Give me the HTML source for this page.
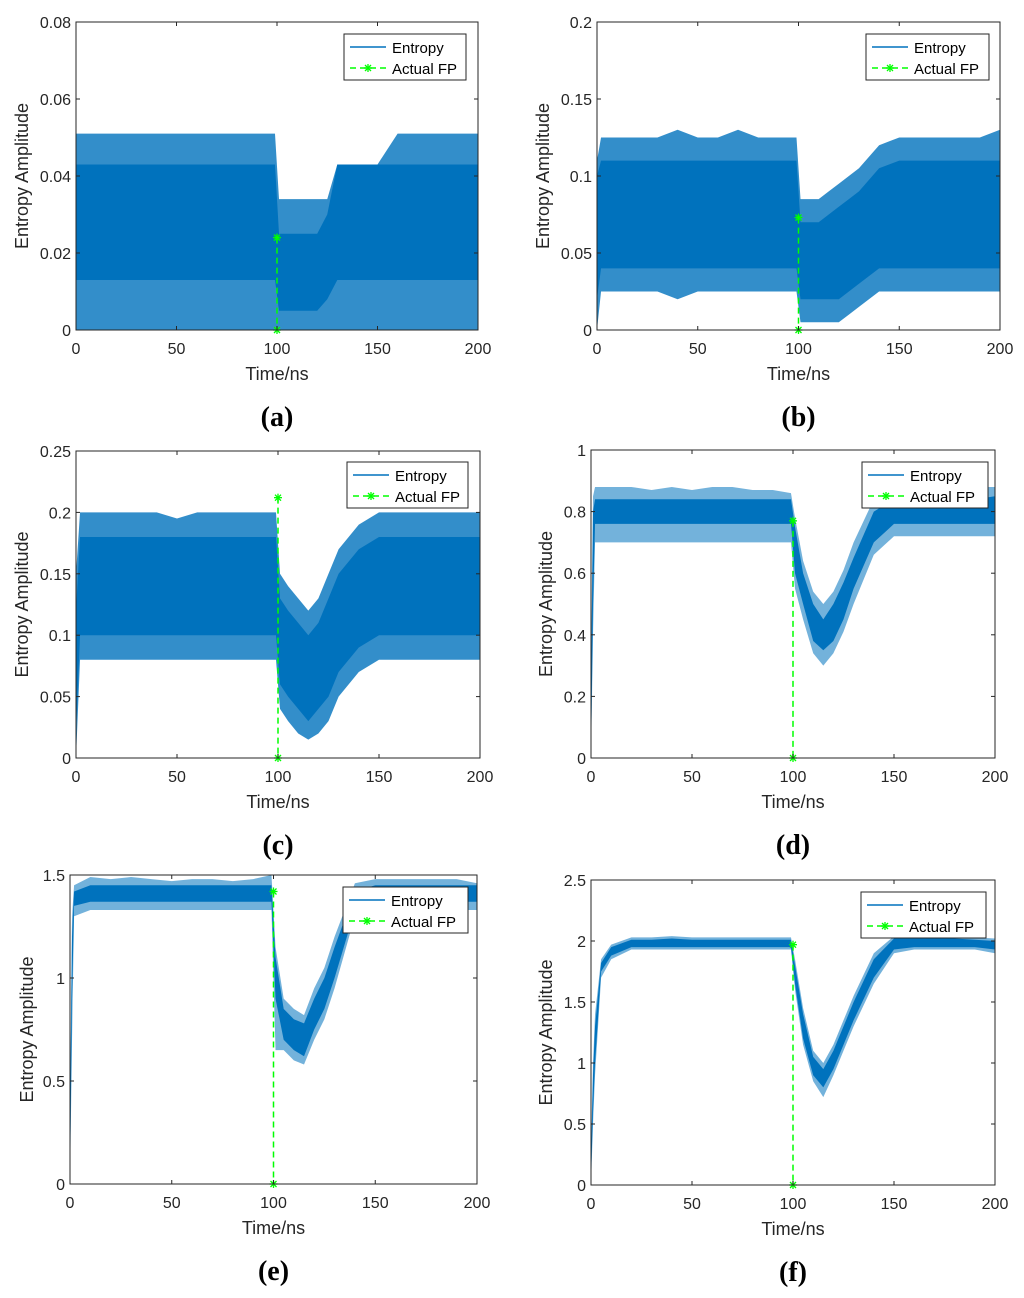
<!DOCTYPE html>
<html><head><meta charset="utf-8"><style>
html,body{margin:0;padding:0;background:#fff}
svg{display:block;font-family:"Liberation Sans",sans-serif}
</style></head><body>
<svg id="fig" width="1024" height="1298" viewBox="0 0 1024 1298"></svg>
<script>
// Panel a
const timesA=[0,2,10,20,30,40,50,60,70,80,90,99,101,105,110,115,120,125,130,140,150,160,170,180,190,200];
const coreLoA=[0.013,0.013,0.013,0.013,0.013,0.013,0.013,0.013,0.013,0.013,0.013,0.013,0.005,0.005,0.005,0.005,0.005,0.008,0.013,0.013,0.013,0.013,0.013,0.013,0.013,0.013];
const coreHiA=[0.043,0.043,0.043,0.043,0.043,0.043,0.043,0.043,0.043,0.043,0.043,0.043,0.025,0.025,0.025,0.025,0.025,0.03,0.043,0.043,0.043,0.043,0.043,0.043,0.043,0.043];
const outLoA=[0,0,0,0,0,0,0,0,0,0,0,0,0,0,0,0,0,0,0,0,0,0,0,0,0,0];
const outHiA=[0.051,0.051,0.051,0.051,0.051,0.051,0.051,0.051,0.051,0.051,0.051,0.051,0.034,0.034,0.034,0.034,0.034,0.034,0.043,0.043,0.043,0.051,0.051,0.051,0.051,0.051];
// Panel b
const timesB=[0,2,10,20,30,40,50,60,70,80,90,99,101,105,110,115,120,125,130,140,150,160,170,180,190,200];
const coreLoB=[0.02,0.04,0.04,0.04,0.04,0.04,0.04,0.04,0.04,0.04,0.04,0.04,0.02,0.02,0.02,0.02,0.02,0.025,0.03,0.04,0.04,0.04,0.04,0.04,0.04,0.04];
const coreHiB=[0.1,0.11,0.11,0.11,0.11,0.11,0.11,0.11,0.11,0.11,0.11,0.11,0.07,0.07,0.07,0.075,0.08,0.085,0.09,0.105,0.11,0.11,0.11,0.11,0.11,0.11];
const outLoB=[0,0.025,0.025,0.025,0.025,0.02,0.025,0.025,0.025,0.025,0.025,0.025,0.005,0.005,0.005,0.005,0.005,0.01,0.015,0.025,0.025,0.025,0.025,0.025,0.025,0.025];
const outHiB=[0.11,0.125,0.125,0.125,0.125,0.13,0.125,0.125,0.13,0.125,0.125,0.125,0.085,0.085,0.085,0.09,0.095,0.1,0.105,0.12,0.125,0.125,0.125,0.125,0.125,0.13];
// Panel c
const timesC=[0,2,10,20,30,40,50,60,70,80,90,99,101,105,110,115,120,125,130,140,150,160,170,180,190,200];
const coreLoC=[0.02,0.1,0.1,0.1,0.1,0.1,0.1,0.1,0.1,0.1,0.1,0.1,0.06,0.05,0.04,0.03,0.04,0.05,0.07,0.09,0.1,0.1,0.1,0.1,0.1,0.1];
const coreHiC=[0.12,0.18,0.18,0.18,0.18,0.18,0.18,0.18,0.18,0.18,0.18,0.18,0.13,0.12,0.11,0.1,0.11,0.13,0.15,0.17,0.18,0.18,0.18,0.18,0.18,0.18];
const outLoC=[0,0.08,0.08,0.08,0.08,0.08,0.08,0.08,0.08,0.08,0.08,0.08,0.04,0.03,0.02,0.015,0.02,0.03,0.05,0.07,0.08,0.08,0.08,0.08,0.08,0.08];
const outHiC=[0.15,0.2,0.2,0.2,0.2,0.2,0.195,0.2,0.2,0.2,0.2,0.2,0.15,0.14,0.13,0.12,0.13,0.15,0.17,0.19,0.2,0.2,0.2,0.2,0.2,0.2];
// Panel d
const timesD=[0,1,2,10,20,30,40,50,60,70,80,90,99,101,105,110,115,120,125,130,140,150,160,170,180,190,200];
const coreLoD=[0,0.5,0.76,0.76,0.76,0.76,0.76,0.76,0.76,0.76,0.76,0.76,0.76,0.6,0.5,0.38,0.35,0.38,0.45,0.55,0.7,0.76,0.76,0.76,0.76,0.76,0.76];
const coreHiD=[0.2,0.8,0.84,0.84,0.84,0.84,0.84,0.84,0.84,0.84,0.84,0.84,0.84,0.75,0.6,0.5,0.45,0.5,0.57,0.65,0.8,0.84,0.84,0.84,0.84,0.84,0.85];
const outLoD=[0,0.4,0.7,0.7,0.7,0.7,0.7,0.7,0.7,0.7,0.7,0.7,0.7,0.55,0.45,0.34,0.3,0.34,0.41,0.5,0.66,0.72,0.72,0.72,0.72,0.72,0.72];
const outHiD=[0.3,0.85,0.88,0.88,0.88,0.87,0.88,0.87,0.88,0.88,0.87,0.87,0.86,0.78,0.64,0.54,0.5,0.54,0.61,0.7,0.84,0.88,0.88,0.88,0.88,0.88,0.88];
// Panel e
const timesE=[0,1,2,10,20,30,40,50,60,70,80,90,99,101,105,110,115,120,125,130,140,150,160,170,180,190,200];
const coreLoE=[0.02,0.9,1.35,1.37,1.37,1.37,1.37,1.37,1.37,1.37,1.37,1.37,1.37,0.9,0.7,0.65,0.62,0.75,0.85,1.0,1.33,1.37,1.37,1.37,1.37,1.37,1.37];
const coreHiE=[0.3,1.2,1.42,1.45,1.45,1.45,1.45,1.45,1.45,1.45,1.45,1.45,1.45,1.1,0.85,0.8,0.78,0.9,1.0,1.15,1.42,1.45,1.45,1.45,1.45,1.45,1.45];
const outLoE=[0,0.7,1.3,1.33,1.33,1.33,1.33,1.33,1.33,1.33,1.33,1.33,1.33,0.65,0.65,0.6,0.58,0.7,0.8,0.95,1.3,1.33,1.33,1.33,1.33,1.33,1.33];
const outHiE=[0.4,1.3,1.45,1.49,1.48,1.49,1.48,1.47,1.48,1.48,1.47,1.48,1.5,1.15,0.9,0.85,0.82,0.95,1.05,1.2,1.46,1.48,1.48,1.48,1.48,1.48,1.46];
// Panel f
const timesF=[0,1,2,5,10,20,30,40,50,60,70,80,90,99,101,105,110,115,120,125,130,140,150,160,170,180,190,200];
const coreLoF=[0.05,0.6,1.0,1.75,1.88,1.95,1.95,1.95,1.95,1.95,1.95,1.95,1.95,1.95,1.65,1.2,0.9,0.8,0.95,1.15,1.35,1.7,1.93,1.95,1.95,1.95,1.95,1.93];
const coreHiF=[0.2,0.9,1.3,1.82,1.95,2.01,2.01,2.02,2.01,2.01,2.01,2.01,2.01,2.01,1.8,1.4,1.05,0.95,1.1,1.3,1.5,1.85,2.02,2.02,2.02,2.02,2.01,2.0];
const outLoF=[0,0.5,0.9,1.7,1.85,1.93,1.93,1.93,1.93,1.93,1.93,1.93,1.93,1.93,1.6,1.15,0.85,0.72,0.9,1.1,1.3,1.65,1.9,1.93,1.93,1.93,1.93,1.9];
const outHiF=[0.3,1.0,1.4,1.85,1.97,2.03,2.03,2.04,2.03,2.03,2.03,2.03,2.03,2.03,1.85,1.45,1.1,1.0,1.15,1.35,1.55,1.9,2.04,2.04,2.04,2.04,2.03,2.02];
// Actual FP values
const fpTime=[100,100,100,100,100,100];
const fpValues=[0.024,0.073,0.212,0.77,1.42,1.97];
const xTicks=[0,50,100,150,200];
const yTicksA=[0,0.02,0.04,0.06,0.08];
const yTicksB=[0,0.05,0.1,0.15,0.2];
const yTicksC=[0,0.05,0.1,0.15,0.2,0.25];
const yTicksD=[0,0.2,0.4,0.6,0.8,1];
const yTicksE=[0,0.5,1,1.5];
const yTicksF=[0,0.5,1,1.5,2,2.5];

const NS="http://www.w3.org/2000/svg";
const svg=document.getElementById('fig');
function mk(tag,attrs,parent){const e=document.createElementNS(NS,tag);for(const k in attrs)e.setAttribute(k,attrs[k]);(parent||svg).appendChild(e);return e;}

const panels=[
 {id:'a',x0:76,x1:478,yT:22,yB:330,yMax:0.08,t:timesA,cl:coreLoA,ch:coreHiA,ol:outLoA,oh:outHiA,yt:yTicksA,leg:[344,34,122],fp:0,yo:48,op:0.8},
 {id:'b',x0:597,x1:1000,yT:22,yB:330,yMax:0.2,t:timesB,cl:coreLoB,ch:coreHiB,ol:outLoB,oh:outHiB,yt:yTicksB,leg:[866,34,123],fp:1,yo:48,op:0.8},
 {id:'c',x0:76,x1:480,yT:451,yB:758,yMax:0.25,t:timesC,cl:coreLoC,ch:coreHiC,ol:outLoC,oh:outHiC,yt:yTicksC,leg:[347,462,121],fp:2,yo:48,op:0.8},
 {id:'d',x0:591,x1:995,yT:450,yB:758,yMax:1,t:timesD,cl:coreLoD,ch:coreHiD,ol:outLoD,oh:outHiD,yt:yTicksD,leg:[862,462,126],fp:3,yo:39,op:0.55},
 {id:'e',x0:70,x1:477,yT:875,yB:1184,yMax:1.5,t:timesE,cl:coreLoE,ch:coreHiE,ol:outLoE,oh:outHiE,yt:yTicksE,leg:[343,887,125],fp:4,yo:37,op:0.55},
 {id:'f',x0:591,x1:995,yT:880,yB:1185,yMax:2.5,t:timesF,cl:coreLoF,ch:coreHiF,ol:outLoF,oh:outHiF,yt:yTicksF,leg:[861,892,125],fp:5,yo:39,op:0.55}
];
const BLUE='#0072BD',GREEN='#00FF00';
function fmt(v){return String(+v.toFixed(3));}
function star(g,x,y){
  const s=mk('g',{},g);
  [[-4,0,4,0],[0,-4,0,4],[-3,-3,3,3],[-3,3,3,-3]].forEach(l=>mk('line',{x1:x+l[0],y1:y+l[1],x2:x+l[2],y2:y+l[3],stroke:GREEN,'stroke-width':1.3},s));
  return s;
}
panels.forEach(p=>{
  const g=mk('g',{});
  
  
  const X=v=>p.x0+(v/200)*(p.x1-p.x0);
  const Y=v=>p.yB-(v/p.yMax)*(p.yB-p.yT);
  mk('rect',{x:p.x0,y:p.yT,width:p.x1-p.x0,height:p.yB-p.yT,fill:'#fff'},g);
  const band=(lo,hi,op,name)=>{
    let pts=p.t.map((t,i)=>X(t)+','+Y(hi[i]));
    for(let i=p.t.length-1;i>=0;i--)pts.push(X(p.t[i])+','+Y(lo[i]));
    const e=mk('polygon',{points:pts.join(' '),fill:BLUE,'fill-opacity':op},g);
    
    
  };
  band(p.ol,p.oh,p.op,'entropy-outer-band');
  band(p.cl,p.ch,1,'entropy-core-band');
  const fx=X(fpTime[p.fp]),fy=Y(fpValues[p.fp]);
  const fl=mk('line',{x1:fx,y1:fy,x2:fx,y2:p.yB,stroke:GREEN,'stroke-width':1.5,'stroke-dasharray':'6,4'},g);
  
  
  star(g,fx,fy);star(g,fx,p.yB);
  const ax=mk('rect',{x:p.x0,y:p.yT,width:p.x1-p.x0,height:p.yB-p.yT,fill:'none',stroke:'#262626','stroke-width':1},g);
  
  
  xTicks.forEach(v=>{
    const x=X(v);
    mk('line',{x1:x,y1:p.yB,x2:x,y2:p.yB-4,stroke:'#262626'},g);
    mk('line',{x1:x,y1:p.yT,x2:x,y2:p.yT+4,stroke:'#262626'},g);
    const t=mk('text',{x:x,y:p.yB+24,'text-anchor':'middle','font-size':16,fill:'#262626'},g);
    t.textContent=v;
    
    
  });
  p.yt.forEach(v=>{
    const y=Y(v);
    mk('line',{x1:p.x0,y1:y,x2:p.x0+4,y2:y,stroke:'#262626'},g);
    mk('line',{x1:p.x1,y1:y,x2:p.x1-4,y2:y,stroke:'#262626'},g);
    const t=mk('text',{x:p.x0-5,y:y+6,'text-anchor':'end','font-size':16,fill:'#262626'},g);
    t.textContent=fmt(v);
    
    
  });
  const xl=mk('text',{x:(p.x0+p.x1)/2,y:p.yB+50,'text-anchor':'middle','font-size':18,fill:'#262626'},g);
  xl.textContent='Time/ns';
  
  
  const yx=p.x0-p.yo,ym=(p.yT+p.yB)/2;
  const yl=mk('text',{x:yx,y:ym,'text-anchor':'middle','font-size':18,fill:'#262626',transform:`rotate(-90 ${yx} ${ym})`},g);
  yl.textContent='Entropy Amplitude';
  
  
  const pl=mk('text',{x:(p.x0+p.x1)/2,y:p.yB+96,'text-anchor':'middle','font-size':28,'font-weight':'bold','font-family':'Liberation Serif, serif',fill:'#000'},g);
  pl.textContent='('+p.id+')';
  
  
  const [lx,ly,lw]=p.leg;
  const lg=mk('g',{},g);
  
  
  mk('rect',{x:lx,y:ly,width:lw,height:46,fill:'#fff',stroke:'#262626','stroke-width':1},lg);
  mk('line',{x1:lx+6,y1:ly+13,x2:lx+42,y2:ly+13,stroke:BLUE,'stroke-width':1.5},lg);
  const t1=mk('text',{x:lx+48,y:ly+19,'font-size':15,fill:'#000'},lg);
  t1.textContent='Entropy';
  
  
  mk('line',{x1:lx+6,y1:ly+34,x2:lx+42,y2:ly+34,stroke:GREEN,'stroke-width':1.5,'stroke-dasharray':'6,4'},lg);
  star(lg,lx+24,ly+34);
  const t2=mk('text',{x:lx+48,y:ly+40,'font-size':15,fill:'#000'},lg);
  t2.textContent='Actual FP';
  
  
});
</script>
</body></html>
